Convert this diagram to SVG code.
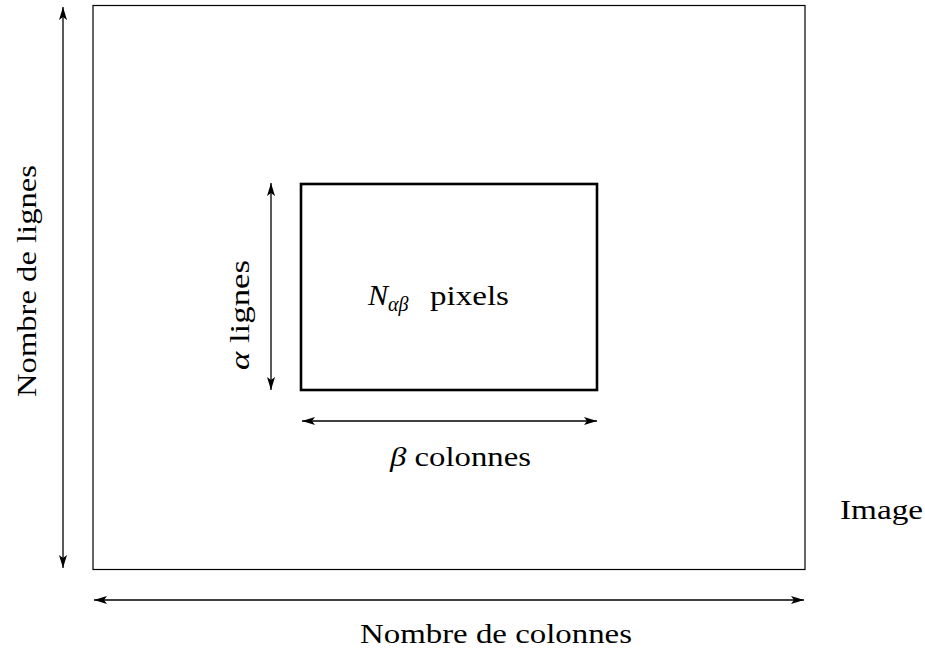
<svg xmlns="http://www.w3.org/2000/svg" width="925" height="650" viewBox="0 0 925 650">
<style>
text{font-family:"Liberation Serif","DejaVu Serif",serif;font-size:28px;fill:#000}
.it{font-style:italic}
.c{stroke:#000;stroke-width:1.3;fill:none}
</style>
<defs>
<marker id="a" markerWidth="14" markerHeight="10" refX="13" refY="5" orient="auto-start-reverse" markerUnits="userSpaceOnUse">
<path d="M0,1 L13,5 L0,9 L3,5 Z" fill="#000"/>
</marker>
</defs>
<rect width="925" height="650" fill="#fff"/>
<g id="image">
<rect x="93" y="5.5" width="712" height="564" fill="none" stroke="#000" stroke-width="1.2"/>
<text x="840" y="519" textLength="83" lengthAdjust="spacingAndGlyphs">Image</text>
</g>
<g id="block">
<rect x="301" y="184" width="296" height="206" fill="none" stroke="#000" stroke-width="2.6"/>
<text x="368" y="305"><tspan class="it" font-size="30">N</tspan><tspan class="it" font-size="20" dy="6">αβ</tspan></text>
<text x="430" y="305" textLength="79" lengthAdjust="spacingAndGlyphs">pixels</text>
</g>
<g id="connectors">
<line class="c" x1="63" y1="7" x2="63" y2="568" marker-start="url(#a)" marker-end="url(#a)"/>
<line class="c" x1="94" y1="600" x2="804" y2="600" marker-start="url(#a)" marker-end="url(#a)"/>
<line class="c" x1="271" y1="183" x2="271" y2="390" marker-start="url(#a)" marker-end="url(#a)"/>
<line class="c" x1="302" y1="421" x2="597" y2="421" marker-start="url(#a)" marker-end="url(#a)"/>
</g>
<g id="labels">
<text x="360" y="643" textLength="272" lengthAdjust="spacingAndGlyphs">Nombre de colonnes</text>
<text transform="translate(36,397) rotate(-90)" textLength="232" lengthAdjust="spacingAndGlyphs">Nombre de lignes</text>
<text transform="translate(249,370) rotate(-90)" textLength="110" lengthAdjust="spacingAndGlyphs"><tspan class="it">α</tspan> lignes</text>
<text x="390" y="466" textLength="141" lengthAdjust="spacingAndGlyphs"><tspan class="it">β</tspan> colonnes</text>
</g>
</svg>
